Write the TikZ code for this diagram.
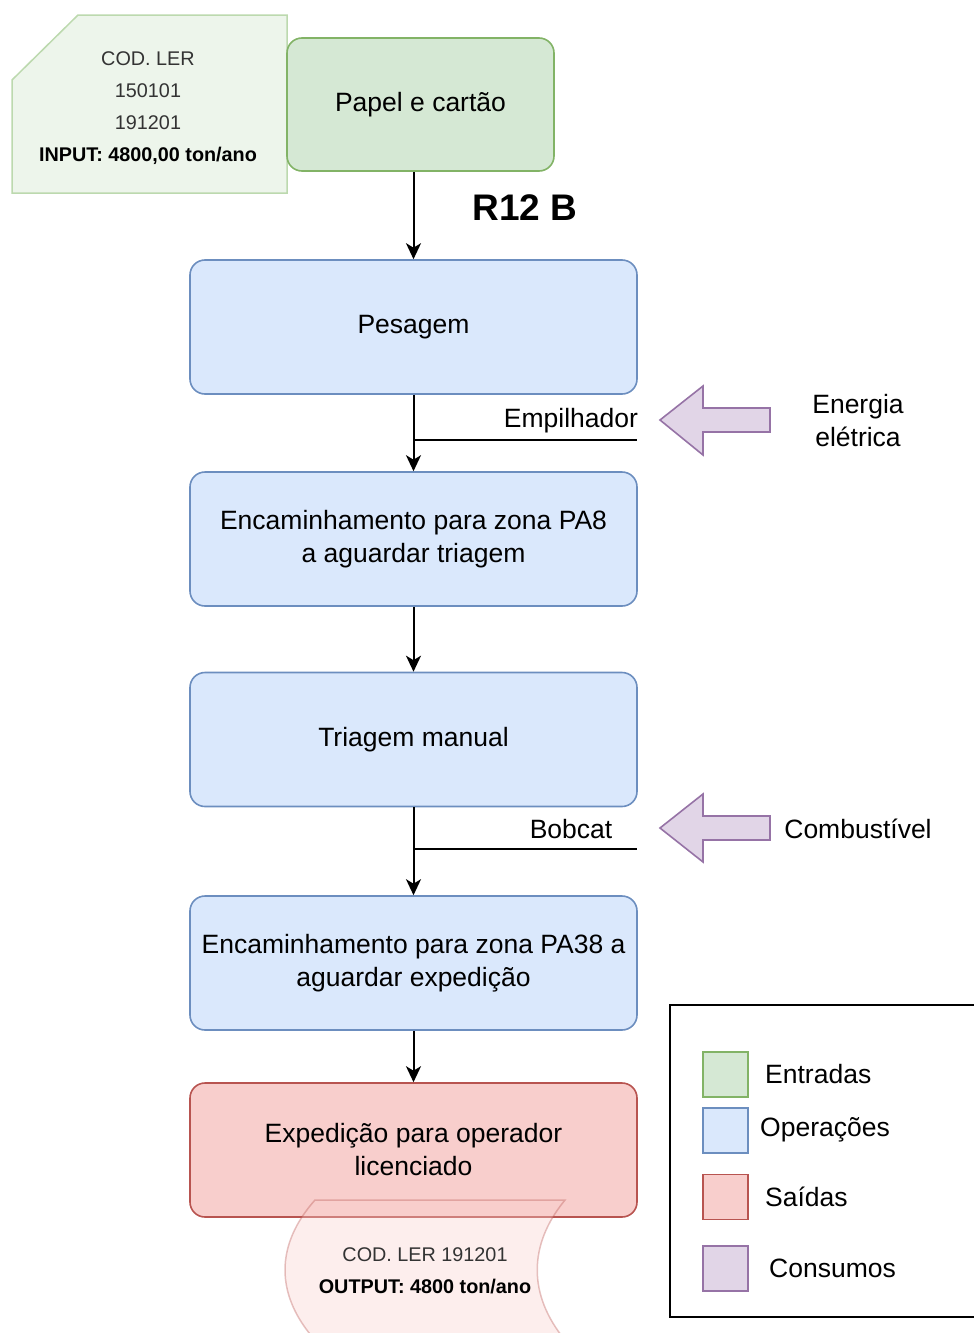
\documentclass[tikz,border=0pt]{standalone}
\usepackage{fontspec}
\setmainfont{Liberation Sans}
\usetikzlibrary{arrows.meta}

\definecolor{inFill}{HTML}{D5E8D4}
\definecolor{inDraw}{HTML}{82B366}
\definecolor{opFill}{HTML}{DAE8FC}
\definecolor{opDraw}{HTML}{6C8EBF}
\definecolor{outFill}{HTML}{F8CECC}
\definecolor{outDraw}{HTML}{B85450}
\definecolor{useFill}{HTML}{E1D5E7}
\definecolor{useDraw}{HTML}{9673A6}
\definecolor{cardFill}{HTML}{EDF5EB}
\definecolor{cardDraw}{HTML}{BCD9AE}
\definecolor{noteText}{HTML}{333333}

\newcommand{\bigtext}{\fontsize{26.5}{33}\selectfont}
\newcommand{\smalltext}{\fontsize{19.8}{32}\selectfont}

\tikzset{
  box/.style={rounded corners=15pt, line width=1.6pt, align=center,
    minimum width=447pt, minimum height=134pt, font=\bigtext},
  opbox/.style={box, draw=opDraw, fill=opFill},
  flow/.style={line width=2pt, -{Stealth[length=16pt,width=15pt,inset=4.5pt]}},
  branch/.style={line width=2pt},
  usearrow/.style={draw=useDraw, fill=useFill, line width=1.6pt, line join=miter},
  label/.style={font=\bigtext, align=center, inner sep=0pt},
  swatch/.style={line width=1.6pt, minimum size=45pt, inner sep=0pt},
}

\begin{document}
\begin{tikzpicture}[x=1pt,y=-1pt]
\useasboundingbox (0,0) rectangle (974,1333);
\clip (0,0) rectangle (974,1333);

% input card with the waste codes
\draw[fill=cardFill, draw=cardDraw, line width=1.5pt]
  (78,15) -- (287,15) -- (287,193) -- (12,193) -- (12,80) -- cycle;
\node[align=center, font=\smalltext, inner sep=0pt] (card) at (148,108)
  {\color{noteText}COD. LER\\ \color{noteText}150101\\ \color{noteText}191201\\ \textbf{INPUT: 4800,00 ton/ano}};

% input material
\node[box, draw=inDraw, fill=inFill, minimum width=267pt, minimum height=133pt]
  (papel) at (420.5,104.5) {Papel e cartão};
\node[font=\fontsize{37}{40}\selectfont\bfseries, inner sep=0pt] (r12) at (525,208) {R12 B};

% operations
\node[opbox] (pes) at (413.5,327) {Pesagem};
\node[opbox] (enc1) at (413.5,539) {Encaminhamento para zona PA8\\a aguardar triagem};
\node[opbox] (tri) at (413.5,739.5) {Triagem manual};
\node[opbox] (enc2) at (413.5,963) {Encaminhamento para zona PA38 a\\aguardar expedição};
\node[box, draw=outDraw, fill=outFill] (exp) at (413.5,1150) {Expedição para operador\\licenciado};

% main flow
\draw[flow] (pes.north |- papel.south) -- (pes.north);
\draw[flow] (pes.south) -- (enc1.north);
\draw[flow] (enc1.south) -- (tri.north);
\draw[flow] (tri.south) -- (enc2.north);
\draw[flow] (enc2.south) -- (exp.north);

% equipment branches
\coordinate (j1) at (414,440);
\coordinate (e1) at (637,440);
\draw[branch] (j1) -- (e1);
\node[label] (emp) at (571,421) {Empilhador};
\coordinate (j2) at (414,849);
\coordinate (e2) at (637,849);
\draw[branch] (j2) -- (e2);
\node[label] (bob) at (571,829) {Bobcat};

% consumption arrows
\draw[usearrow] (660,420) -- (703,386) -- (703,408) -- (770,408) -- (770,432)
  -- (703,432) -- (703,455) -- cycle;
\node[label] (energia) at (858,421) {Energia\\elétrica};
\draw[usearrow] (660,828) -- (703,794) -- (703,816) -- (770,816) -- (770,840)
  -- (703,840) -- (703,862) -- cycle;
\node[label] (comb) at (858,829) {Combustível};

% output tape
\draw[fill=outFill, fill opacity=0.35, draw=outDraw, draw opacity=0.35, line width=1.5pt]
  (315,1200) -- (565,1200) .. controls (528,1245) and (528,1295) .. (565,1340)
  -- (315,1340) .. controls (275,1295) and (275,1245) .. (315,1200) -- cycle;
\node[align=center, font=\smalltext, inner sep=0pt] (out) at (425,1271)
  {\color{noteText}COD. LER 191201\\ \textbf{OUTPUT: 4800 ton/ano}};

% legend
\draw[line width=1.6pt] (670,1005) rectangle (990,1317);
\node[swatch, draw=inDraw, fill=inFill] (lg1) at (725.5,1074.5) {};
\node[swatch, draw=opDraw, fill=opFill] (lg2) at (725.5,1130.5) {};
\node[swatch, draw=outDraw, fill=outFill] (lg3) at (725.5,1197) {};
\node[swatch, draw=useDraw, fill=useFill] (lg4) at (725.5,1268.5) {};
\node[label, anchor=west] (t1) at (765,1074) {Entradas};
\node[label, anchor=west] (t2) at (760,1130) {Operações};
\node[label, anchor=west] (t3) at (765,1197) {Saídas};
\node[label, anchor=west] (t4) at (769,1268) {Consumos};
\end{tikzpicture}
\end{document}
